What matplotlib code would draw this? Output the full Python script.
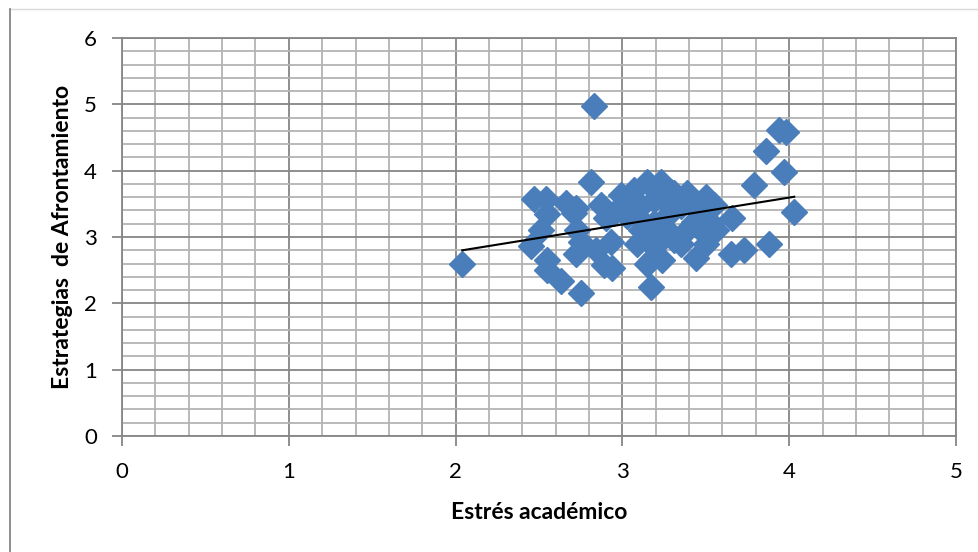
import matplotlib.pyplot as plt
import numpy as np
from matplotlib.lines import Line2D
from matplotlib.ticker import MultipleLocator

# valores
estres = [2.04, 2.83, 2.81, 2.47, 2.54, 2.55, 2.51, 2.45, 2.55, 2.55,
          2.63, 2.75, 2.66, 2.72, 2.71, 2.73, 2.75, 2.72, 2.84, 2.87,
          2.90, 2.93, 2.89, 2.94, 2.99, 3.07, 3.15, 3.23, 3.29, 3.39,
          3.50, 3.55, 3.43, 3.66, 3.56, 3.50, 3.44, 3.65, 3.73, 3.88,
          3.79, 3.86, 3.94, 3.98, 3.97, 4.03, 3.17, 3.15, 3.24, 3.09,
          3.19, 3.31, 3.27, 3.11, 3.39, 3.43, 3.03, 3.11, 3.19, 3.27,
          3.35, 2.95, 3.03, 3.11, 3.19, 3.27, 3.48, 3.53, 3.05, 3.21,
          3.31, 3.15, 3.23, 3.35, 3.17, 3.47]
afront = [2.60, 4.98, 3.83, 3.57, 3.58, 3.35, 3.11, 2.87, 2.66, 2.50,
          2.33, 2.15, 3.51, 3.43, 3.36, 3.11, 2.93, 2.75, 2.80, 3.48,
          3.28, 2.93, 2.58, 2.53, 3.63, 3.71, 3.83, 3.83, 3.68, 3.66,
          3.61, 3.48, 3.48, 3.29, 3.11, 2.90, 2.68, 2.75, 2.80, 2.90,
          3.78, 4.29, 4.62, 4.59, 3.98, 3.38, 2.25, 2.60, 2.65, 2.90,
          2.85, 2.95, 3.11, 3.11, 3.11, 3.23, 3.51, 3.46, 3.56, 3.51,
          3.46, 3.36, 3.31, 3.26, 3.21, 3.31, 3.31, 3.21, 3.61, 3.73,
          3.66, 3.01, 3.01, 2.90, 2.65, 3.11]

plt.rcParams['font.family'] = ['Lato', 'DejaVu Sans']

fig = plt.figure(figsize=(9.79, 5.52), dpi=100)
ax = fig.add_axes([122 / 979, 1 - 436 / 552, (956 - 122) / 979, (436 - 38) / 552])

x = np.array(estres)
y = np.array(afront)

ax.plot(x, y, 'D', color='#4A7EBB', ms=13, mec='#4A7EBB', zorder=3, clip_on=False)

# linea de tendencia lineal
m, b = np.polyfit(x, y, 1)
xs = np.array([x.min(), x.max()])
ax.plot(xs, m * xs + b, color='black', lw=1.5, zorder=4)

ax.set_xlim(0, 5)
ax.set_ylim(0, 6)
ax.xaxis.set_major_locator(MultipleLocator(1))
ax.xaxis.set_minor_locator(MultipleLocator(0.2))
ax.yaxis.set_major_locator(MultipleLocator(1))
ax.yaxis.set_minor_locator(MultipleLocator(0.2))
ax.grid(which='minor', color='#B3B3B3', lw=1.3, zorder=0)
ax.grid(which='major', color='#868686', lw=1.3, zorder=1)
ax.set_axisbelow(True)

for s in ax.spines.values():
    s.set_color('#868686')
    s.set_linewidth(1.3)

ax.tick_params(which='major', length=7, width=1.3, color='#868686',
               labelsize=16, pad=12)
ax.tick_params(which='minor', length=0)
ax.tick_params(axis='y', pad=11)

ax.set_xlabel('Estrés académico', fontsize=16.5, fontweight='bold', labelpad=14)
ax.set_ylabel('Estrategias  de Afrontamiento', fontsize=16.5, fontweight='bold',
              labelpad=8)

# marco exterior del grafico
fig.add_artist(Line2D([10 / 979, 1], [1 - 9 / 552, 1 - 9 / 552],
                      transform=fig.transFigure, color='#D9D9D9', lw=1))
fig.add_artist(Line2D([10 / 979, 10 / 979], [0, 1 - 9 / 552],
                      transform=fig.transFigure, color='#868686', lw=1.3))

fig.savefig('out.png', dpi=100)
